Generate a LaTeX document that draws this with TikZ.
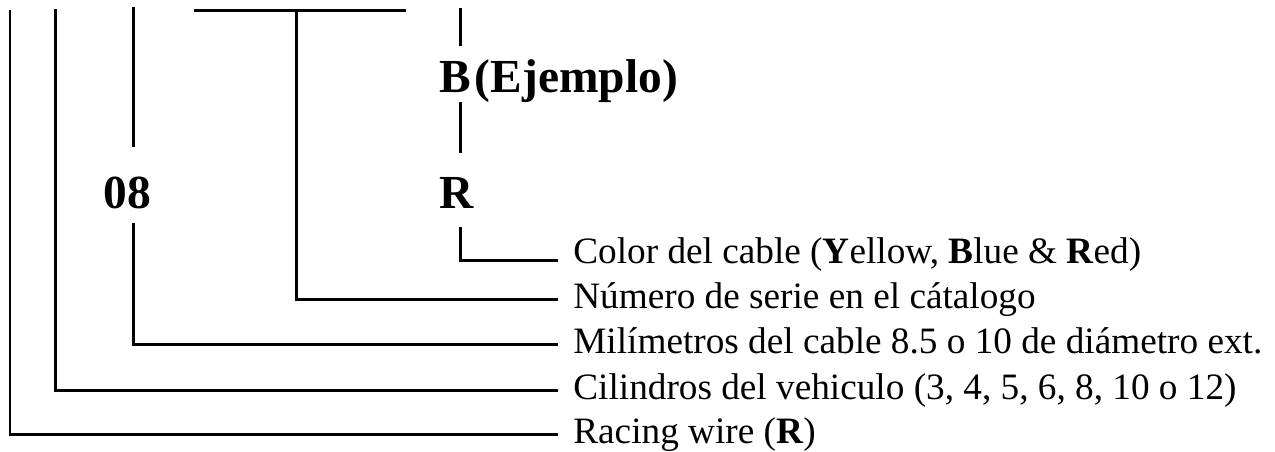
\documentclass[tikz,border=0pt]{standalone}
\usepackage{fontspec}
\setmainfont{Liberation Serif}
\usetikzlibrary{positioning}

\begin{document}
\begin{tikzpicture}[x=0.02cm, y=0.02cm,
    wire/.style={line width=0.06cm},
    code/.style={inner sep=0, anchor=base, font=\fontsize{27pt}{31pt}\selectfont\bfseries},
    desc/.style={anchor=west, inner xsep=0.3cm, inner ysep=0, text height=0.56cm, text depth=0.19cm, font=\fontsize{21.2pt}{25pt}\selectfont}]
\useasboundingbox (0,0) rectangle (1275,451);

% tops of the wires
\coordinate (t1) at (10,441);
\coordinate (t2) at (55,442);
\coordinate (t3) at (133,444);
\coordinate (t4) at (460,443);
\coordinate (barL) at (194,441);
\coordinate (barR) at (406,441);
\coordinate (barM) at (296,441);

% code
\node[code, text height=1.22cm, text depth=0.3cm] (num08) at (127,243) {08};
\node[code, anchor=base west, text height=0.92cm, text depth=0.2cm] (ej) at (439,359) {B\kern0.08cm(Ejemplo)};
\node[code, text height=1.1cm, text depth=0.38cm] (rr) at (456.5,243) {R};

% descriptions
\node[desc, text depth=0.44cm] (color) at (558,191) {Color del cable (\textbf{Y}ellow, \textbf{B}lue \& \textbf{R}ed)};
\node[desc] (serie) at (558,152) {Número de serie en el cátalogo};
\node[desc] (mm) at (558,107) {Milímetros del cable 8.5 o 10 de diámetro ext.};
\node[desc] (cil) at (558,61) {Cilindros del vehiculo (3, 4, 5, 6, 8, 10 o 12)};
\node[desc] (racing) at (558,17) {Racing wire (\textbf{R})};

% wires
\draw[wire] (t1) |- (racing.west);
\draw[wire] (t2) |- (cil.west);
\draw[wire] (t3) -- (t3 |- num08.north);
\draw[wire] (t3 |- num08.south) |- (mm.west);
\draw[wire] (barL) -- (barR);
\draw[wire] (barM) |- (serie.west);
\draw[wire] (t4) -- (t4 |- ej.north);
\draw[wire] (t4 |- ej.south) -- (t4 |- rr.north);
\draw[wire] (t4 |- rr.south) |- (color.west);

\end{tikzpicture}
\end{document}
